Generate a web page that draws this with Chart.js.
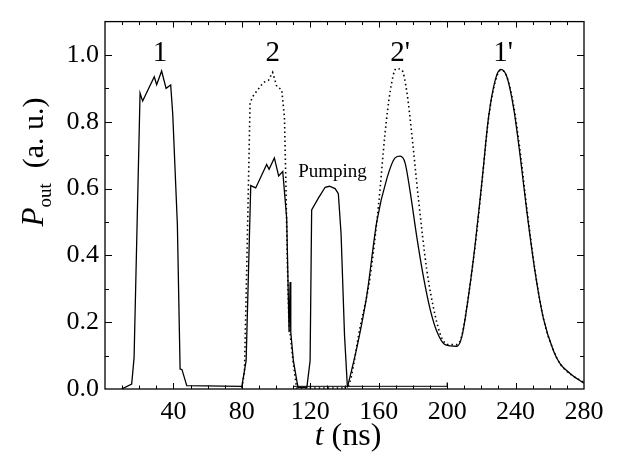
<!DOCTYPE html>
<html>
<head>
<meta charset="utf-8">
<script src="https://cdn.jsdelivr.net/npm/chart.js@4.4.1/dist/chart.umd.min.js"></script>
<style>
  html, body { margin: 0; padding: 0; background: #fff; }
  #wrap { width: 639px; height: 454px; }
</style>
</head>
<body>
<div id="wrap"><canvas id="pulseChart" width="639" height="454"></canvas></div>
<script>
// --- data ---
const solidT = [9.7, 15.6, 17, 20.5, 22, 28.8, 30.2, 33.1, 35.7, 38.4, 39.6, 42.3, 43.9, 45, 47.8,
  80, 82.5, 85.2, 88.1, 94.5, 95.9, 99, 101.5, 103.9, 106.2, 107.6, 108.2, 108.6, 110.1, 112.8,
  118, 119.9, 120.8, 124.8, 128.7, 131.2, 134.5, 136.4, 138, 140, 141.7,
  147.2, 153, 158.9, 164.7, 169.6, 172.5, 175.4, 178.4, 182.3, 186.1, 190, 194, 198.8, 205.7,
  208.6, 212.5, 216.4, 220.3, 224.2, 228.1, 231.4, 234.9, 238.8, 242.7, 246.6, 251.5, 256.3,
  262.2, 266.1, 272, 280];
const solidP = [0, 0.015, 0.094, 0.886, 0.862, 0.935, 0.911, 0.952, 0.90, 0.91, 0.823, 0.493, 0.06, 0.058, 0.01,
  0.008, 0.085, 0.609, 0.602, 0.672, 0.658, 0.692, 0.638, 0.651, 0.512, 0.17, 0.32, 0.17, 0.085, 0.005,
  0.005, 0.085, 0.536, 0.572, 0.604, 0.607, 0.6, 0.585, 0.464, 0.162, 0.005,
  0.123, 0.279, 0.502, 0.629, 0.692, 0.697, 0.677, 0.59, 0.454, 0.337, 0.24, 0.172, 0.133, 0.128,
  0.157, 0.279, 0.434, 0.619, 0.813, 0.925, 0.957, 0.935, 0.843, 0.697, 0.531, 0.347, 0.211,
  0.114, 0.075, 0.046, 0.017];

const dotT = [80, 81.5, 82.8, 83.8, 84.8, 86.8, 92.6, 95.5, 98, 100.4, 103.3, 104.9, 105.8, 106.5, 107.5, 110, 112,
  140, 142.3, 149, 155, 159.9, 163.7, 166.7, 170.2, 173.5, 176.4, 179.3, 183.2, 188.1, 193, 196.9, 200.8, 205.7,
  208.6, 212.5, 216.4, 220.3, 224.2, 228.1, 231.4, 234.9, 238.8, 242.7, 246.6, 251.5, 256.3, 262.2, 266.1, 272, 280];
const dotP = [0.003, 0.05, 0.35, 0.6, 0.857, 0.879, 0.918, 0.924, 0.948, 0.906, 0.896, 0.813, 0.6, 0.4, 0.2, 0.08, 0.003,
  0.003, 0.01, 0.182, 0.337, 0.551, 0.765, 0.891, 0.959, 0.955, 0.891, 0.765, 0.57, 0.357, 0.22, 0.152, 0.133, 0.133,
  0.16, 0.28, 0.43, 0.615, 0.81, 0.92, 0.955, 0.935, 0.85, 0.71, 0.54, 0.35, 0.21, 0.115, 0.075, 0.045, 0.02];

// residual trace lying just above the baseline
const baseT = [110, 200, 200];
const baseP = [0.008, 0.008, 0.02];

// the square pulses are drawn straight, the delayed pulses (2', 1') smooth
const smoothFrom = 141;

const xTicks = [40, 80, 120, 160, 200, 240, 280];
const yTicks = [0, 0.2, 0.4, 0.6, 0.8, 1.0];

const peakNames = ['1', '2', "2'", "1'"];
const peakAt = [32.2, 98, 172.5, 232.7];

const SERIF = '"Liberation Serif", "Times New Roman", serif';

const toPoints = (xs, ys) => xs.map((x, i) => ({ x: x, y: ys[i] }));
const before = (pts, t) => pts.filter(p => p.x <= t);
const after = (pts, t) => {
  const i = pts.findIndex(p => p.x > t);
  return pts.slice(Math.max(0, i - 1));
};

// frame with inward ticks, peak labels and axis titles
const framePlugin = {
  id: 'frame',
  afterDraw(chart) {
    const { ctx, chartArea: a, scales } = chart;
    const xs = scales.x, ys = scales.y;
    ctx.save();
    ctx.strokeStyle = '#000';
    ctx.lineWidth = 1.3;
    ctx.strokeRect(a.left, a.top, a.right - a.left, a.bottom - a.top);

    ctx.lineWidth = 1;
    ctx.beginPath();
    for (let v = 10; v < 280; v += 10) {
      const px = Math.round(xs.getPixelForValue(v)) + 0.5;
      const len = v % 40 === 0 ? 6 : 3.5;
      ctx.moveTo(px, a.bottom); ctx.lineTo(px, a.bottom - len);
      ctx.moveTo(px, a.top); ctx.lineTo(px, a.top + len);
    }
    for (let k = 1; k <= 10; k++) {
      const py = Math.round(ys.getPixelForValue(k / 10)) + 0.5;
      const len = k % 2 === 0 ? 7 : 4;
      ctx.moveTo(a.left, py); ctx.lineTo(a.left + len, py);
      ctx.moveTo(a.right, py); ctx.lineTo(a.right - len, py);
    }
    ctx.stroke();

    ctx.fillStyle = '#000';
    ctx.textAlign = 'center';
    ctx.textBaseline = 'alphabetic';
    ctx.font = '29px ' + SERIF;
    peakNames.forEach((name, i) => {
      ctx.fillText(name, xs.getPixelForValue(peakAt[i]), ys.getPixelForValue(0.982));
    });

    ctx.textAlign = 'left';
    ctx.font = '19px ' + SERIF;
    ctx.fillText('Pumping', xs.getPixelForValue(112.9), ys.getPixelForValue(0.636));

    // x title: t (ns)
    ctx.font = 'italic 32px ' + SERIF;
    const tW = ctx.measureText('t').width;
    ctx.font = '32px ' + SERIF;
    const restW = ctx.measureText(' (ns)').width;
    let sx = 348 - (tW + restW) / 2;
    ctx.font = 'italic 32px ' + SERIF;
    ctx.fillText('t', sx, 445);
    ctx.font = '32px ' + SERIF;
    ctx.fillText(' (ns)', sx + tW, 445);

    // y title: P_out (a. u.)
    ctx.translate(43, 162);
    ctx.rotate(-Math.PI / 2);
    ctx.font = 'italic 31px ' + SERIF;
    const pW = ctx.measureText('P').width;
    ctx.font = '19px ' + SERIF;
    const oW = ctx.measureText('out').width;
    ctx.font = '30px ' + SERIF;
    const uW = ctx.measureText('  (a. u.)').width;
    let cx = -(pW + oW + uW) / 2;
    ctx.font = 'italic 31px ' + SERIF;
    ctx.fillText('P', cx, 0);
    ctx.font = '19px ' + SERIF;
    ctx.fillText('out', cx + pW, 8);
    ctx.font = '30px ' + SERIF;
    ctx.fillText('  (a. u.)', cx + pW + oW, 0);
    ctx.restore();
  }
};

document.addEventListener('DOMContentLoaded', function() {
  const ctx = document.getElementById('pulseChart');

  const solidPts = toPoints(solidT, solidP);
  const dotPts = toPoints(dotT, dotP);

  const dotted = { borderColor: '#000', borderWidth: 1.6, borderDash: [1.5, 3], pointRadius: 0 };
  const solid = { borderColor: '#000', borderWidth: 1.3, pointRadius: 0 };

  new Chart(ctx, {
    type: 'line',
    data: {
      datasets: [
        Object.assign({ label: 'dotted pulses', data: before(dotPts, smoothFrom), tension: 0 }, dotted),
        Object.assign({ label: 'dotted delayed', data: after(dotPts, smoothFrom), cubicInterpolationMode: 'monotone' }, dotted),
        Object.assign({ label: 'solid pulses', data: before(solidPts, smoothFrom + 1), tension: 0 }, solid),
        Object.assign({ label: 'solid delayed', data: after(solidPts, smoothFrom + 1), cubicInterpolationMode: 'monotone' }, solid),
        {
          label: 'baseline',
          data: toPoints(baseT, baseP),
          borderColor: '#000',
          borderWidth: 1,
          pointRadius: 0,
          tension: 0
        }
      ]
    },
    options: {
      responsive: false,
      animation: false,
      layout: { padding: { top: 11, right: 55, left: 0, bottom: 0 } },
      scales: {
        x: {
          type: 'linear',
          min: 0,
          max: 280,
          afterFit: s => { s.height = 65; },
          afterBuildTicks: s => { s.ticks = xTicks.map(v => ({ value: v })); },
          grid: { display: false, drawTicks: false },
          border: { display: false },
          ticks: {
            color: '#000',
            padding: 8,
            maxRotation: 0,
            autoSkip: false,
            font: { family: SERIF, size: 26 }
          }
        },
        y: {
          min: 0,
          max: 1.1,
          afterFit: s => { s.width = 105; },
          afterBuildTicks: s => { s.ticks = yTicks.map(v => ({ value: v })); },
          grid: { display: false, drawTicks: false },
          border: { display: false },
          ticks: {
            color: '#000',
            padding: 6,
            font: { family: SERIF, size: 26 },
            callback: v => v.toFixed(1)
          }
        }
      },
      plugins: {
        legend: { display: false },
        tooltip: { enabled: false }
      }
    },
    plugins: [framePlugin]
  });
});
</script>
</body>
</html>
